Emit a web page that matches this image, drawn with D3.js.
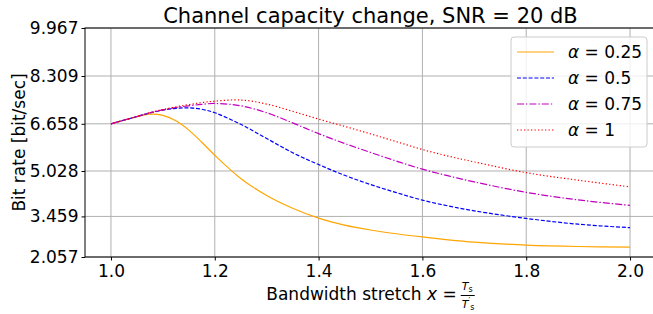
<!doctype html>
<html>
<head>
<script src="https://d3js.org/d3.v7.min.js"></script>
<style>
  body { margin: 0; background: #fff; }
  text { font-family: "DejaVu Sans", sans-serif; fill: #000; }
</style>
</head>
<body>
<div id="graphic"></div>
<script>

// data
var xs       = [1.0, 1.05, 1.075, 1.1, 1.125, 1.15, 1.175, 1.2, 1.25, 1.3, 1.35, 1.4, 1.45, 1.5, 1.55, 1.6, 1.65, 1.7, 1.8, 1.9, 2.0];
var alpha25  = [6.658, 6.90, 6.99, 6.95, 6.76, 6.44, 6.02, 5.57, 4.77, 4.18, 3.74, 3.40, 3.16, 2.99, 2.86, 2.75, 2.65, 2.57, 2.47, 2.42, 2.40];
var alpha50  = [6.658, 6.91, 7.03, 7.13, 7.19, 7.21, 7.16, 7.04, 6.64, 6.15, 5.66, 5.25, 4.88, 4.56, 4.28, 4.02, 3.82, 3.65, 3.39, 3.19, 3.07];
var alpha75  = [6.658, 6.91, 7.04, 7.14, 7.22, 7.28, 7.33, 7.36, 7.28, 7.04, 6.69, 6.32, 5.98, 5.67, 5.37, 5.09, 4.86, 4.65, 4.29, 4.03, 3.84];
var alpha100 = [6.658, 6.91, 7.04, 7.15, 7.24, 7.32, 7.39, 7.44, 7.48, 7.34, 7.09, 6.82, 6.57, 6.31, 6.04, 5.77, 5.54, 5.34, 4.97, 4.71, 4.48];

var xTicks = [1.0, 1.2, 1.4, 1.6, 1.8, 2.0];
var yTicks = [2.057, 3.459, 5.028, 6.658, 8.309, 9.967];
var labels = ["0.25", "0.5", "0.75", "1"];

var series = [
  {name: labels[0], values: alpha25,  color: "#ffa500", dash: null},
  {name: labels[1], values: alpha50,  color: "#0000ff", dash: "4,1.8"},
  {name: labels[2], values: alpha75,  color: "#bf00bf", dash: "7,2,1.4,2"},
  {name: labels[3], values: alpha100, color: "#ff0000", dash: "1.3,2.2"}
];

var W = 653, H = 314;
var margin = {top: 28, right: -3, bottom: 57, left: 85};
var width = W - margin.left - margin.right,
    height = H - margin.top - margin.bottom;

var svg = d3.select("#graphic").append("svg")
  .attr("width", W)
  .attr("height", H);

var g = svg.append("g")
  .attr("transform", "translate(" + margin.left + "," + margin.top + ")");

var xScale = d3.scaleLinear().domain([0.95, 2.05]).range([0, width]);
var yScale = d3.scaleLinear().domain([2.057, 9.967]).range([height, 0]);

// grid
g.append("g").selectAll("line").data(xTicks).enter().append("line")
  .attr("x1", d => xScale(d)).attr("x2", d => xScale(d))
  .attr("y1", 0).attr("y2", height)
  .style("stroke", "#b0b0b0").style("stroke-width", 1);
g.append("g").selectAll("line").data(yTicks).enter().append("line")
  .attr("x1", 0).attr("x2", width)
  .attr("y1", d => yScale(d)).attr("y2", d => yScale(d))
  .style("stroke", "#b0b0b0").style("stroke-width", 1);

// curves
svg.append("clipPath").attr("id", "clip").append("rect")
  .attr("width", width).attr("height", height);

var line = d3.line()
  .x((d, i) => xScale(xs[i]))
  .y(d => yScale(d))
  .curve(d3.curveCatmullRom.alpha(0.5));

g.append("g").attr("clip-path", "url(#clip)")
  .selectAll("path").data(series).enter().append("path")
  .attr("d", d => line(d.values))
  .style("fill", "none")
  .style("stroke", d => d.color)
  .style("stroke-width", 1.2)
  .style("stroke-dasharray", d => d.dash);

// axes
var xAxis = d3.axisBottom(xScale).tickValues(xTicks)
  .tickFormat(d3.format(".1f")).tickSizeInner(3.5).tickSizeOuter(0).tickPadding(4);
var yAxis = d3.axisLeft(yScale).tickValues(yTicks)
  .tickFormat(d3.format(".3f")).tickSizeInner(3.5).tickSizeOuter(0).tickPadding(3);

var gx = g.append("g").attr("transform", "translate(0," + height + ")").call(xAxis);
var gy = g.append("g").call(yAxis);
[gx, gy].forEach(function (a) {
  a.select(".domain").remove();
  a.selectAll("text").style("font-size", "17px").style("font-family", "DejaVu Sans").attr("fill", "#000");
  a.selectAll("line").style("stroke", "#000").style("stroke-width", 1);
});

// spines
g.append("rect")
  .attr("width", width).attr("height", height)
  .style("fill", "none").style("stroke", "#000").style("stroke-width", 1);

// title
g.append("text")
  .attr("x", width / 2).attr("y", -5)
  .attr("text-anchor", "middle")
  .style("font-size", "21px")
  .text("Channel capacity change, SNR = 20 dB");

// y label
svg.append("text")
  .attr("text-anchor", "middle")
  .attr("transform", "translate(25," + (margin.top + height / 2) + ")rotate(-90)")
  .style("font-size", "17px")
  .text("Bit rate [bit/sec]");

// x label with fraction
var xl = svg.append("g");
var main = xl.append("text").attr("y", 300).style("font-size", "17px");
main.append("tspan").text("Bandwidth stretch ");
main.append("tspan").style("font-style", "italic").text("x");
main.append("tspan").text(" =");
var mw = main.node().getComputedTextLength();
var fw = 14;
var x0 = margin.left + width / 2 - (mw + 4 + fw) / 2;
main.attr("x", x0);
var fx = x0 + mw + 4;
var num = xl.append("text").attr("x", fx + 1).attr("y", 290).style("font-size", "11px");
num.append("tspan").style("font-style", "italic").text("T");
num.append("tspan").attr("dy", 2).style("font-size", "8px").text("s");
xl.append("line").attr("x1", fx).attr("x2", fx + fw).attr("y1", 295.5).attr("y2", 295.5)
  .style("stroke", "#000").style("stroke-width", 1);
var den = xl.append("text").attr("x", fx + 1).attr("y", 308).style("font-size", "11px");
den.append("tspan").style("font-style", "italic").text("T");
den.append("tspan").attr("dy", -4).style("font-size", "8px").text("\u2032");
den.append("tspan").attr("dy", 6).style("font-size", "8px").text("s");

// legend
var lg = svg.append("g").attr("transform", "translate(511,37)");
lg.append("rect")
  .attr("width", 136).attr("height", 110).attr("rx", 3)
  .style("fill", "#fff").style("fill-opacity", 0.8)
  .style("stroke", "#cccccc").style("stroke-width", 1);
var rows = lg.selectAll("g.row").data(series).enter().append("g")
  .attr("transform", (d, i) => "translate(0," + (15 + i * 26) + ")");
rows.append("line")
  .attr("x1", 6).attr("x2", 43).attr("y1", 0).attr("y2", 0)
  .style("stroke", d => d.color).style("stroke-width", 1.2)
  .style("stroke-dasharray", d => d.dash);
var lt = rows.append("text").attr("x", 57).attr("y", 6).style("font-size", "17px");
lt.append("tspan").style("font-style", "italic").text("\u03b1");
lt.append("tspan").text(d => " = " + d.name);

</script>
</body>
</html>
